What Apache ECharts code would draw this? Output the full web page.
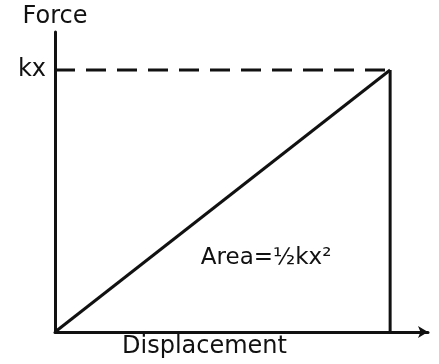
<!DOCTYPE html>
<html>
<head>
<meta charset="utf-8">
<script src="https://cdn.jsdelivr.net/npm/echarts@6/dist/echarts.min.js"></script>
<style>
  html, body { margin: 0; padding: 0; background: #fff; }
  #chart { width: 439px; height: 364px; }
</style>
</head>
<body>
<div id="chart"></div>
<script>
// force grows linearly with displacement up to x, where F = kx
const forceLine = [[0, 0], [1, 1]];
const endLine = [[1, 0], [1, 1]];
const kxLine = [[0, 1], [1, 1]];
const yTickLabels = ['kx'];
const areaLabel = [[0.63, 0.282, 'Area=½kx²']];

const font = 'DejaVu Sans';

window.onload = function () {
    const myChart = echarts.init(document.getElementById('chart'));

    const lineStyle = { color: '#111', width: 3 };

    const option = {
        animation: false,
        grid: { left: 55, right: 11, top: 32, bottom: 32 },
        xAxis: {
            type: 'value',
            min: 0,
            max: 1.113,
            axisLine: {
                show: true,
                lineStyle: lineStyle,
                symbol: ['none', 'arrow'],
                symbolSize: [9, 10]
            },
            axisTick: { show: false },
            axisLabel: { show: false },
            splitLine: { show: false }
        },
        yAxis: {
            type: 'value',
            min: 0,
            max: 1.145,
            name: 'Force',
            nameLocation: 'end',
            nameGap: 3,
            nameTextStyle: { color: '#111', fontSize: 24, fontFamily: font, align: 'center' },
            axisLine: { show: true, lineStyle: lineStyle },
            axisTick: { show: false },
            axisLabel: {
                customValues: [1],
                formatter: function () { return yTickLabels[0]; },
                color: '#111',
                fontSize: 24,
                fontFamily: font,
                margin: 9
            },
            splitLine: { show: false }
        },
        graphic: [{
            type: 'text',
            left: 122,
            top: 335,
            style: { text: 'Displacement', fill: '#111', font: '24px ' + font }
        }],
        series: [
            {
                type: 'line', data: forceLine, symbol: 'none',
                lineStyle: lineStyle
            },
            {
                type: 'line', data: endLine, symbol: 'none',
                lineStyle: lineStyle
            },
            {
                type: 'line', data: kxLine, symbol: 'none',
                lineStyle: { color: '#111', width: 3, type: [20, 11] }
            },
            {
                type: 'scatter', data: areaLabel, symbolSize: 0,
                label: {
                    show: true,
                    position: 'inside',
                    formatter: function (p) { return p.value[2]; },
                    color: '#111',
                    opacity: 1,
                    textBorderWidth: 0,
                    fontSize: 23,
                    fontFamily: font
                }
            }
        ]
    };

    myChart.setOption(option);
};
</script>
</body>
</html>
